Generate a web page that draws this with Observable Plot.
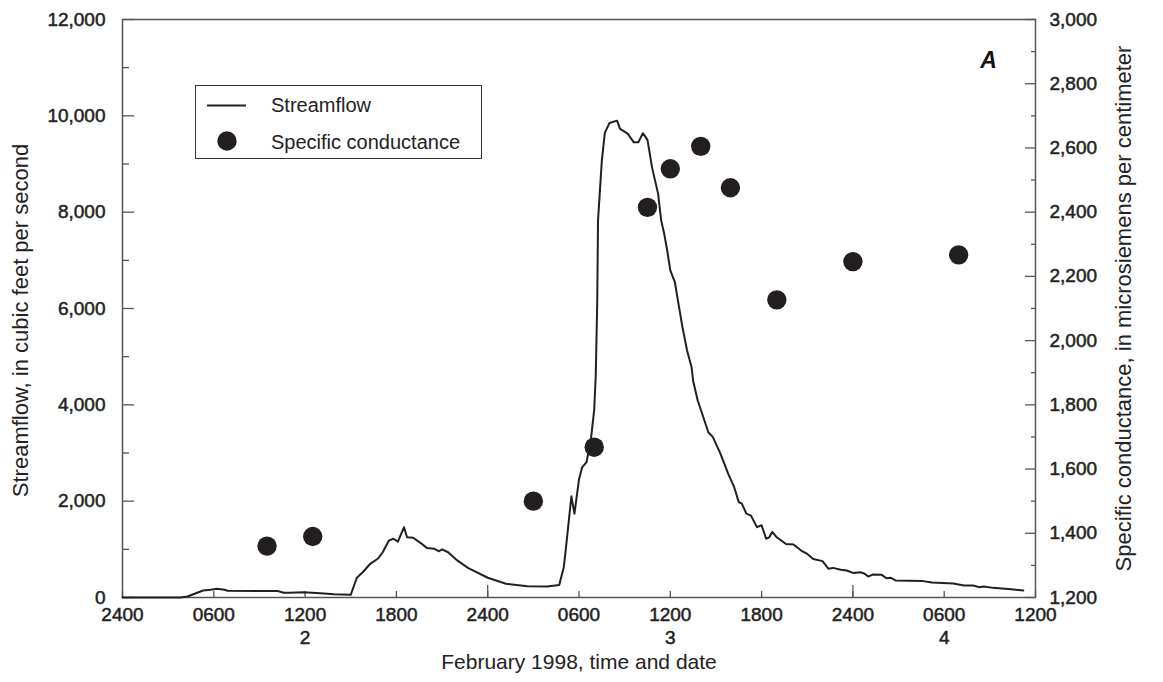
<!DOCTYPE html>
<html>
<head>
<meta charset="utf-8">
<script src="https://cdn.jsdelivr.net/npm/d3@7"></script>
<script src="https://cdn.jsdelivr.net/npm/@observablehq/plot@0.6"></script>
<style>
  body { margin: 0; background: #fff; }
  #wrap { position: relative; width: 1163px; height: 682px; }
  #legend { position: absolute; left: 195px; top: 85px; width: 287px; height: 74px;
    border: 1.3px solid #333; box-sizing: border-box; background: #fff; }
  #legend svg { position: absolute; left: 0; top: 0; }
  .lt { position: absolute; left: 75px; font-family: "Liberation Sans", Arial, sans-serif;
    font-size: 20px; color: #222; line-height: 20px; white-space: nowrap; }
</style>
</head>
<body>
<div id="wrap">
  <div id="legend">
    <svg width="285" height="72">
      <line x1="11" x2="50" y1="19.5" y2="19.5" stroke="#231f20" stroke-width="2"></line>
      <circle cx="31" cy="55" r="9.7" fill="#231f20"></circle>
    </svg>
    <div class="lt" style="top:9px">Streamflow</div>
    <div class="lt" style="top:46px">Specific conductance</div>
  </div>
</div>
<script>
// Streamflow: hours after 2400 on February 1, 1998, and cubic feet per second
const flowHours = [0, 3.8, 4.27, 5.3, 5.8, 6.2, 6.7, 6.9, 10.2, 10.6, 11.0, 11.9, 13.0, 13.9, 15.0, 15.1,
  15.4, 15.8, 16.3, 16.8, 17.1, 17.5, 17.8, 18.1, 18.5, 18.7, 19.1, 19.6, 20.0, 20.5, 20.8, 21.0, 21.4,
  22.0, 22.7, 24.0, 25.2, 26.6, 27.9, 28.7, 29.0, 29.1, 29.5, 29.7, 30.0, 30.2, 30.5, 30.8, 31.0, 31.1,
  31.2, 31.25, 31.5, 31.7, 32.0, 32.5, 32.7, 33.2, 33.6, 33.9, 34.2, 34.5, 34.8, 35.2, 35.4, 35.6, 35.8,
  36.0, 36.3, 36.5, 36.8, 37.1, 37.4, 37.5, 37.8, 38.1, 38.5, 38.8, 39.3, 39.8, 40.2, 40.5, 40.7, 41.0,
  41.3, 41.7, 42.0, 42.3, 42.5, 42.7, 43.0, 43.6, 44.1, 44.6, 45.0, 45.4, 46.0, 46.4, 46.7, 47.2, 47.6,
  48.0, 48.5, 48.8, 49.0, 49.3, 49.9, 50.2, 50.5, 50.8, 52.6, 53.2, 54.6, 55.3, 55.9, 56.3, 56.6, 57.2,
  58.4, 59.2];
const flowCfs = [0, 0, 20, 145, 160, 180, 160, 140, 135, 100, 100, 110, 90, 70, 55, 145,
  410, 530, 705, 810, 940, 1180, 1220, 1160, 1460, 1250, 1240, 1130, 1030, 1010, 960, 1000, 940,
  770, 615, 410, 285, 235, 230, 260, 630, 905, 2100, 1740, 2450, 2700, 2810, 3330, 3900, 4600,
  6170, 7830, 9070, 9650, 9850, 9900, 9730, 9630, 9450, 9450, 9640, 9500, 8930, 8380, 7830, 7550, 7200,
  6790, 6550, 6170, 5610, 5130, 4780, 4500, 4090, 3810, 3430, 3330, 2980, 2570, 2290, 1980, 1950, 1740,
  1700, 1460, 1500, 1220, 1250, 1360, 1250, 1110, 1100, 975, 905, 800, 755, 595, 615, 575, 560,
  510, 525, 490, 435, 475, 470, 400, 410, 355, 340, 310, 290, 250, 250, 215, 230, 200,
  170, 145];

// Specific conductance samples: hours and microsiemens per centimeter
const condHours = [9.5, 12.5, 27.0, 31.0, 34.5, 36.0, 38.0, 39.95, 43.0, 48.0, 54.95];
const condValues = [1360, 1390, 1500, 1668, 2415, 2535, 2605, 2476, 2127, 2246, 2267];

// Axis ticks
const leftTicks = [0, 2000, 4000, 6000, 8000, 10000, 12000];
const leftMinor = [1000, 3000, 5000, 7000, 9000, 11000];
const rightTicks = [1200, 1400, 1600, 1800, 2000, 2200, 2400, 2600, 2800, 3000];
const rightMinor = [1300, 1500, 1700, 1900, 2100, 2300, 2500, 2700, 2900];
const timeTicks = [0, 6, 12, 18, 24, 30, 36, 42, 48, 54, 60];
const dayBoundaryTicks = [24, 48];
const dayLabelHours = [12, 36, 54];
const dayLabelText = ["2", "3", "4"];

const condMin = 1200, condMax = 3000, flowMax = 12000;
const toFlow = c => (c - condMin) / (condMax - condMin) * flowMax;
const fromFlow = q => q / flowMax * (condMax - condMin) + condMin;

const flow = flowHours.map((h, i) => ({h, q: flowCfs[i]}));
const cond = condHours.map((h, i) => ({h, c: condValues[i], q: toFlow(condValues[i])}));
const days = dayLabelHours.map((h, i) => ({h, t: dayLabelText[i]}));

const fmt = d3.format(",");
const timeFmt = h => { const hh = h % 24; return (hh === 0 ? "24" : String(hh).padStart(2, "0")) + "00"; };
const FONT = '"Liberation Sans", Arial, sans-serif';
const tickColor = "#555";
const TS = 19;
const bold = {textStroke: "#222", textStrokeWidth: 0.5};

const plot = Plot.plot({
  width: 1163, height: 682,
  marginLeft: 122, marginRight: 128, marginTop: 19, marginBottom: 85,
  style: {fontFamily: FONT, fontSize: "19px", color: "#222", background: "#fff", overflow: "visible"},
  x: {domain: [0, 60]},
  y: {domain: [0, flowMax]},
  marks: [
    // bottom axis
    Plot.axisX({ticks: timeTicks, tickSize: -6, tickPadding: 16, tickFormat: timeFmt, stroke: tickColor, strokeWidth: 1.3, label: null, fontSize: TS, ...bold}),
    Plot.axisX({ticks: dayBoundaryTicks, tickSize: -12, tickFormat: () => "", stroke: tickColor, strokeWidth: 1.3, label: null}),
    Plot.text(days, {x: "h", text: "t", frameAnchor: "bottom", dy: 40, lineAnchor: "middle", fontSize: TS, fill: "#222", stroke: "#222", strokeWidth: 0.5}),
    // left axis
    Plot.axisY({ticks: leftTicks, tickSize: -12, tickPadding: 29, tickFormat: d => fmt(d), stroke: tickColor, strokeWidth: 1.3, label: null, fontSize: TS, ...bold}),
    Plot.axisY({ticks: leftMinor, tickSize: -7, tickFormat: () => "", stroke: tickColor, strokeWidth: 1.3, label: null}),
    // right axis (specific conductance)
    Plot.axisY({anchor: "right", ticks: rightTicks.map(toFlow), tickSize: -11, tickPadding: 25, tickFormat: q => fmt(Math.round(fromFlow(q))), stroke: tickColor, strokeWidth: 1.3, label: null, fontSize: TS, ...bold}),
    Plot.axisY({anchor: "right", ticks: rightMinor.map(toFlow), tickSize: -5, tickFormat: () => "", stroke: tickColor, strokeWidth: 1.3, label: null}),
    Plot.frame({stroke: tickColor, strokeWidth: 1.5}),
    // data
    Plot.line(flow, {x: "h", y: "q", stroke: "#231f20", strokeWidth: 2}),
    Plot.dot(cond, {x: "h", y: "q", r: 9.7, fill: "#231f20", stroke: "none"}),
    // titles
    Plot.text(["February 1998, time and date"], {frameAnchor: "bottom", dy: 65, lineAnchor: "middle", fontSize: 21, fill: "#222"}),
    Plot.text(["Streamflow, in cubic feet per second"], {frameAnchor: "left", dx: -102, dy: 12, rotate: -90, lineAnchor: "middle", textAnchor: "middle", fontSize: 22, fill: "#222"}),
    Plot.text(["Specific conductance, in microsiemens per centimeter"], {frameAnchor: "right", dx: 88, dy: 0, rotate: -90, lineAnchor: "middle", textAnchor: "middle", fontSize: 22, fill: "#222"}),
    Plot.text(["A"], {frameAnchor: "top-right", dx: -47, dy: 41, lineAnchor: "middle", textAnchor: "middle", fontSize: 23, fontWeight: "bold", fontStyle: "italic", fill: "#111"})
  ]
});
const wrap = document.getElementById("wrap");
wrap.insertBefore(plot, wrap.firstChild);
</script>
</body>
</html>
